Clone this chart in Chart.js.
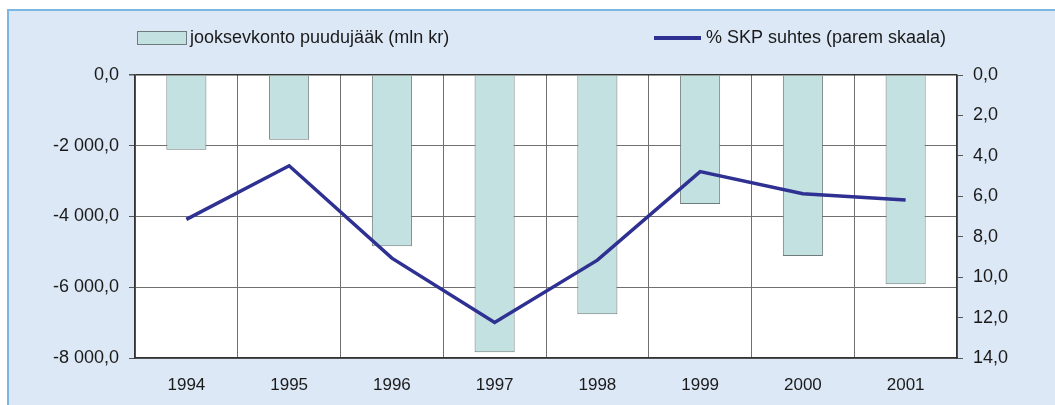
<!DOCTYPE html>
<html>
<head>
<meta charset="utf-8">
<script src="https://cdn.jsdelivr.net/npm/chart.js@4/dist/chart.umd.min.js"></script>
<style>
  body { margin: 0; background: #fff; }
  #wrap { position: relative; width: 1055px; height: 405px; overflow: hidden; }
  #frame { position: absolute; left: 7px; top: 9px; width: 1100px; height: 450px;
           background: #dce8f6; border-left: 2px solid #7db6e2; border-top: 2px solid #7db6e2; }
  canvas { position: absolute; left: 0; top: 0; }
</style>
</head>
<body>
<div id="wrap">
  <div id="frame"></div>
  <canvas id="chart" width="1055" height="405"></canvas>
</div>
<script>
const years = ['1994', '1995', '1996', '1997', '1998', '1999', '2000', '2001'];
const deficit = [-2110, -1830, -4840, -7835, -6760, -3645, -5120, -5915];
const gdpShare = [7.14, 4.49, 9.06, 12.24, 9.16, 4.78, 5.87, 6.18];
const barLabel = 'jooksevkonto puudujääk (mln kr)';
const lineLabel = '% SKP suhtes (parem skaala)';

const barFill = '#c2e1e0';
const barEdge = '#6f7a7a';
const lineColor = '#2e3192';
const gridColor = '#707070';
const textColor = '#1a1a1a';
const font = 'Liberation Sans, Arial, sans-serif';

function fmtLeft(v) {
  const parts = Math.abs(v).toFixed(1).split('.');
  const intPart = parts[0].replace(/\B(?=(\d{3})+(?!\d))/g, ' ');
  return (v < 0 ? '-' : '') + intPart + ',' + parts[1];
}

// white plot area + custom legend
const decor = {
  id: 'decor',
  beforeDraw(chart) {
    const a = chart.chartArea, ctx = chart.ctx;
    ctx.save();
    ctx.fillStyle = '#fff';
    ctx.fillRect(a.left, a.top, a.right - a.left, a.bottom - a.top);
    ctx.restore();
  },
  afterDraw(chart) {
    const ctx = chart.ctx;
    ctx.save();
    ctx.font = '18px ' + font;
    ctx.textBaseline = 'middle';
    ctx.fillStyle = barFill;
    ctx.fillRect(137.5, 31.5, 49, 13);
    ctx.strokeStyle = barEdge;
    ctx.lineWidth = 1;
    ctx.strokeRect(137.5, 31.5, 49, 13);
    ctx.fillStyle = textColor;
    ctx.fillText(barLabel, 190, 38);
    ctx.strokeStyle = lineColor;
    ctx.lineWidth = 4;
    ctx.beginPath();
    ctx.moveTo(654, 38);
    ctx.lineTo(701, 38);
    ctx.stroke();
    ctx.fillText(lineLabel, 706, 38);
    ctx.restore();
  }
};

new Chart(document.getElementById('chart'), {
  data: {
    labels: years,
    datasets: [{
      type: 'line',
      label: lineLabel,
      data: gdpShare,
      yAxisID: 'y2',
      borderColor: lineColor,
      borderWidth: 3.5,
      pointRadius: 0,
      tension: 0,
      order: 0
    }, {
      type: 'bar',
      label: barLabel,
      data: deficit,
      yAxisID: 'y',
      backgroundColor: barFill,
      borderColor: barEdge,
      borderWidth: 1,
      categoryPercentage: 1,
      barPercentage: 0.39,
      order: 1
    }]
  },
  options: {
    responsive: false,
    devicePixelRatio: 1,
    animation: false,
    layout: { padding: { top: 75, left: 0, right: 0, bottom: 0 } },
    plugins: { legend: { display: false }, tooltip: { enabled: false } },
    scales: {
      x: {
        offset: true,
        grid: { offset: true, color: gridColor, lineWidth: 1, drawTicks: false },
        border: { display: true, color: '#333', width: 1.5 },
        ticks: { padding: 17, color: textColor, font: { family: font, size: 17 } },
        afterFit(s) { s.height = 47; }
      },
      y: {
        position: 'left',
        min: -8000,
        max: 0,
        ticks: { stepSize: 2000, padding: 10, color: textColor, font: { family: font, size: 18 }, callback: fmtLeft },
        grid: {
          color: c => c.tick && c.tick.value === 0 ? '#333' : gridColor,
          lineWidth: c => c.tick && c.tick.value === 0 ? 1.5 : 1,
          tickLength: 6,
          tickColor: '#555'
        },
        border: { display: true, color: '#333', width: 1.5 },
        afterFit(s) { s.width = 135; }
      },
      y2: {
        position: 'right',
        reverse: true,
        min: 0,
        max: 14,
        ticks: { stepSize: 2, padding: 10, color: textColor, font: { family: font, size: 18 },
                 callback: v => v.toFixed(1).replace('.', ',') },
        grid: { drawOnChartArea: false, tickLength: 6, tickColor: '#555' },
        border: { display: true, color: '#333', width: 1.5 },
        afterFit(s) { s.width = 98; }
      }
    }
  },
  plugins: [decor]
});
</script>
</body>
</html>
